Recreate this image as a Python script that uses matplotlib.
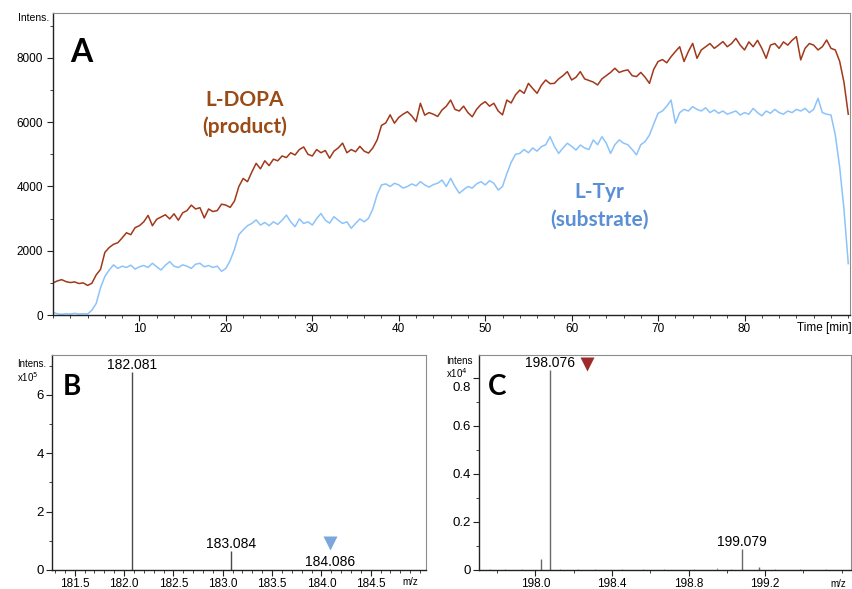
import numpy as np
import matplotlib
matplotlib.use("Agg")
import matplotlib.pyplot as plt
from matplotlib.ticker import MultipleLocator, FixedLocator, FuncFormatter

# ---------------- data ----------------
# Extracted ion chromatograms, sampled every 0.5 min from t = 0
time_step_min = 0.5
ldopa_intensity = [
    1000, 1060, 1100, 1040, 1010, 1030, 980, 1000, 920, 990,
    1250, 1420, 1950, 2100, 2200, 2250, 2400, 2560, 2500, 2720,
    2780, 2900, 3100, 2780, 2980, 3050, 3120, 2990, 3150, 2950,
    3180, 3250, 3420, 3300, 3340, 3020, 3300, 3220, 3250, 3450,
    3420, 3350, 3550, 4000, 4250, 4150, 4450, 4720, 4550, 4800,
    4650, 4850, 4800, 4950, 4900, 5050, 4980, 5150, 5230, 5000,
    4950, 5150, 5050, 5120, 4880, 5100, 5200, 5350, 5050, 5150,
    5080, 5250, 5100, 5040, 5200, 5450, 5900, 5980, 6230, 5970,
    6150, 6250, 6330, 6200, 6020, 6590, 6220, 6300, 6250, 6180,
    6380, 6500, 6690, 6400, 6350, 6500, 6300, 6170, 6400, 6550,
    6640, 6500, 6590, 6350, 6230, 6690, 6600, 6850, 7000, 6900,
    7210, 7050, 6900, 7150, 7315, 7200, 7210, 7350, 7450, 7575,
    7315, 7400, 7575, 7350, 7300, 7250, 7160, 7350, 7450, 7550,
    7680, 7550, 7600, 7630, 7450, 7420, 7550, 7400, 7210, 7650,
    7890, 7950, 7850, 8040, 8200, 8350, 7890, 8200, 8455, 7990,
    8250, 8350, 8450, 8300, 8400, 8510, 8350, 8450, 8610, 8400,
    8250, 8500, 8350, 8550, 8300, 7990, 8400, 8450, 8300, 8500,
    8400, 8550, 8665, 7940, 8300, 8450, 8400, 8250, 8350, 8560,
    8300, 8250, 7900, 7250, 6250,
]
ltyr_intensity = [
    80, 40, 20, 40, 30, 50, 30, 40, 30, 150,
    360, 850, 1200, 1400, 1560, 1450, 1520, 1480, 1550, 1430,
    1500, 1540, 1480, 1610, 1500, 1400, 1550, 1660, 1520, 1480,
    1560, 1520, 1450, 1580, 1610, 1500, 1540, 1480, 1520, 1360,
    1450, 1700, 2050, 2500, 2650, 2780, 2850, 2960, 2800, 2880,
    2780, 2900, 2820, 2950, 3110, 2900, 2750, 2990, 2850, 2900,
    2800, 3000, 3160, 2950, 2860, 3060, 2950, 2850, 2900, 2700,
    2850, 2990, 2900, 3010, 3300, 3750, 4050, 4080, 4000, 4100,
    4050, 3950, 4000, 4080, 4020, 4150, 4050, 3980, 4060, 4100,
    4200, 4000, 4255, 4000, 3790, 3900, 4000, 3950, 4080, 4150,
    4050, 4180, 4100, 3890, 4000, 4400, 4750, 5000, 5030, 5150,
    5050, 5200, 5100, 5240, 5300, 5550, 5250, 5030, 5200, 5345,
    5250, 5135, 5290, 5200, 5150, 5450, 5300, 5550, 5350, 5030,
    5300, 5450, 5350, 5300, 5150, 4985, 5300, 5400, 5600, 5950,
    6280, 6350, 6500, 6690, 5970, 6300, 6400, 6350, 6485, 6400,
    6350, 6450, 6300, 6380, 6280, 6350, 6250, 6300, 6350, 6226,
    6300, 6250, 6430, 6300, 6200, 6350, 6280, 6400, 6300, 6250,
    6350, 6300, 6400, 6350, 6430, 6300, 6400, 6745, 6300, 6250,
    6226, 5600, 4615, 3300, 1600,
]
time_min = np.arange(len(ldopa_intensity)) * time_step_min

# Mass spectrum of L-Tyr (intensity x10^5)
mz_tyr = [182.081, 183.084, 184.086]
int_tyr = [6.80, 0.66, 0.02]
mz_tyr_marked = 184.086

# Mass spectrum of L-DOPA (intensity x10^4)
mz_dopa = [198.027, 198.076, 199.079, 199.170]
int_dopa = [0.046, 0.833, 0.086, 0.014]
mz_dopa_noise = [197.76, 197.84, 197.93, 198.13, 198.22, 198.31, 198.45,
                 198.56, 198.67, 198.83, 198.95, 199.02, 199.25, 199.38, 199.52]
int_dopa_noise = [0.004, 0.003, 0.005, 0.004, 0.003, 0.004, 0.005,
                  0.004, 0.003, 0.004, 0.008, 0.005, 0.004, 0.003, 0.004]
mz_dopa_marked = 198.076

a_xticks = [10, 20, 30, 40, 50, 60, 70, 80]
b_xticks = [181.5, 182.0, 182.5, 183.0, 183.5, 184.0, 184.5]
b_yticks = [0, 2, 4, 6]
c_xticks = [198.0, 198.4, 198.8, 199.2]
c_yticks = [0, 0.2, 0.4, 0.6, 0.8]

# ---------------- styling ----------------
W, H = 853, 589
plt.rcParams['font.family'] = ['Liberation Sans', 'DejaVu Sans']
fig = plt.figure(figsize=(W / 100, H / 100), dpi=100)

DOPA_LINE = '#a1381a'
TYR_LINE = '#8cc3fb'
DOPA_TEXT = '#9a4b16'
TYR_TEXT = '#5a8fd6'
FRAME = '#8c8c8c'
AXIS = '#222222'
BOLD_FAMILY = ['Lato', 'DejaVu Sans']


def px_axes(left, top, right, bottom):
    return fig.add_axes([left / W, 1 - bottom / H, (right - left) / W, (bottom - top) / H])


def style_frame(ax):
    for s in ('top', 'right'):
        ax.spines[s].set_color(FRAME)
        ax.spines[s].set_linewidth(0.8)
    for s in ('left', 'bottom'):
        ax.spines[s].set_color(AXIS)
        ax.spines[s].set_linewidth(1.0)
    ax.tick_params(which='major', direction='out', length=4, width=0.8,
                   color=AXIS, labelsize=8.5, pad=2)
    ax.tick_params(which='minor', direction='out', length=2, width=0.6, color=AXIS)


def fig_text(x, y, s, **kw):
    fig.text(x / W, 1 - y / H, s, **kw)


# ---------------- panel A: chromatograms ----------------
axA = px_axes(53, 13, 850, 315)
axA.plot(time_min, ltyr_intensity, color=TYR_LINE, lw=1.1)
axA.plot(time_min, ldopa_intensity, color=DOPA_LINE, lw=1.1)
axA.set_xlim(0, 92.2)
axA.set_ylim(0, 9400)
axA.xaxis.set_major_locator(FixedLocator(a_xticks))
axA.xaxis.set_minor_locator(MultipleLocator(2))
axA.yaxis.set_major_locator(MultipleLocator(2000))
axA.yaxis.set_minor_locator(MultipleLocator(1000))
style_frame(axA)
axA.tick_params(axis='y', pad=3)

axA.text(0.036, 0.868, 'A', transform=axA.transAxes, ha='center', va='center',
         fontsize=23, fontweight='bold', family=BOLD_FAMILY)
axA.text(22.2, 6700, 'L-DOPA', ha='center', va='center', fontsize=15,
         fontweight='bold', color=DOPA_TEXT, family=BOLD_FAMILY)
axA.text(22.2, 5850, '(product)', ha='center', va='center', fontsize=15,
         fontweight='bold', color=DOPA_TEXT, family=BOLD_FAMILY)
axA.text(63.2, 3830, 'L-Tyr', ha='center', va='center', fontsize=15,
         fontweight='bold', color=TYR_TEXT, family=BOLD_FAMILY)
axA.text(63.2, 2960, '(substrate)', ha='center', va='center', fontsize=15,
         fontweight='bold', color=TYR_TEXT, family=BOLD_FAMILY)
fig_text(49, 18, 'Intens.', ha='right', va='center', fontsize=7.5)
fig_text(852, 328, 'Time [min]', ha='right', va='center', fontsize=8.5)

# ---------------- panel B: L-Tyr spectrum ----------------
axB = px_axes(52, 355, 426, 570)
axB.vlines(mz_tyr, 0, int_tyr, color='#4a4a4a', lw=1.0)
axB.set_xlim(181.27, 185.06)
axB.set_ylim(0, 7.37)
axB.xaxis.set_major_locator(FixedLocator(b_xticks))
axB.xaxis.set_major_formatter(FuncFormatter(lambda v, p: f'{v:.1f}'))
axB.xaxis.set_minor_locator(MultipleLocator(0.1))
axB.yaxis.set_major_locator(FixedLocator(b_yticks))
axB.yaxis.set_minor_locator(MultipleLocator(1))
style_frame(axB)
axB.tick_params(axis='y', labelsize=9.5)
for mz, inten in zip(mz_tyr[:2], int_tyr[:2]):
    axB.annotate(f'{mz:.3f}', (mz, inten), xytext=(0, 0), textcoords='offset points',
                 ha='center', va='bottom', fontsize=10)
axB.plot([mz_tyr_marked], [0.93], marker='v', ms=10, color='#7ba7dc', mec='none')
axB.text(mz_tyr_marked, 0.27, f'{mz_tyr_marked:.3f}', ha='center', va='center', fontsize=10)
axB.text(0.053, 0.851, 'B', transform=axB.transAxes, ha='center', va='center',
         fontsize=20, fontweight='bold', family=BOLD_FAMILY)
fig_text(17, 364, 'Intens.', ha='left', va='center', fontsize=7)
fig_text(17, 377, 'x10$^5$', ha='left', va='center', fontsize=7)
fig_text(402, 582, 'm/z', ha='left', va='center', fontsize=7)

# ---------------- panel C: L-DOPA spectrum ----------------
axC = px_axes(479, 355, 851, 570)
axC.vlines(mz_dopa_noise, 0, int_dopa_noise, color='#9a9a9a', lw=0.8)
axC.vlines(mz_dopa, 0, int_dopa, color='#6a6a6a', lw=1.0)
axC.set_xlim(197.705, 199.649)
axC.set_ylim(0, 0.895)
axC.xaxis.set_major_locator(FixedLocator(c_xticks))
axC.xaxis.set_major_formatter(FuncFormatter(lambda v, p: f'{v:.1f}'))
axC.xaxis.set_minor_locator(MultipleLocator(0.2))
axC.yaxis.set_major_locator(FixedLocator(c_yticks))
top_c = c_yticks[-1]
# the top label sits a little below its tick so it clears the scale note
axC.yaxis.set_major_formatter(FuncFormatter(
    lambda v, p: '' if abs(v - top_c) < 1e-9 else ('0' if v == 0 else f'{v:.1f}')))
axC.yaxis.set_minor_locator(MultipleLocator(0.1))
style_frame(axC)
axC.tick_params(axis='y', labelsize=9.5)
axC.annotate(f'{top_c:.1f}', xy=(0, top_c), xycoords=('axes fraction', 'data'),
             xytext=(-6, -7), textcoords='offset points', ha='right', va='center',
             fontsize=9.5)
for mz, inten in zip(mz_dopa[1:3], int_dopa[1:3]):
    axC.annotate(f'{mz:.3f}', (mz, inten), xytext=(0, 0), textcoords='offset points',
                 ha='center', va='bottom', fontsize=10)
axC.plot([198.27], [0.858], marker='v', ms=10, color='#9e2b2b', mec='none')
axC.text(0.048, 0.851, 'C', transform=axC.transAxes, ha='center', va='center',
         fontsize=20, fontweight='bold', family=BOLD_FAMILY)
fig_text(446, 361, 'Intens', ha='left', va='center', fontsize=7)
fig_text(446, 373, 'x10$^4$', ha='left', va='center', fontsize=7)
fig_text(838, 584, 'm/z', ha='center', va='center', fontsize=7)

fig.savefig('out.png', dpi=100)
